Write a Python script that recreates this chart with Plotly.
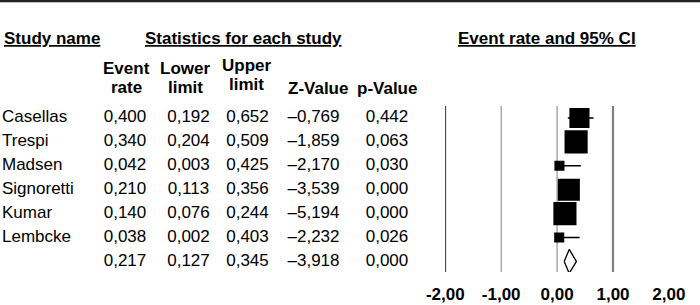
import plotly.graph_objects as go

# ---------------- data ----------------
study_names = ["Casellas", "Trespi", "Madsen", "Signoretti", "Kumar", "Lembcke"]
event_rate = [0.400, 0.340, 0.042, 0.210, 0.140, 0.038]
lower_limit = [0.192, 0.204, 0.003, 0.113, 0.076, 0.002]
upper_limit = [0.652, 0.509, 0.425, 0.356, 0.244, 0.403]
z_value = [-0.769, -1.859, -2.170, -3.539, -5.194, -2.232]
p_value = [0.442, 0.063, 0.030, 0.000, 0.000, 0.026]
rel_weight = [18.7, 24.7, 4.7, 22.6, 24.7, 4.7]  # relative weights (%)

summary_rate = 0.217
summary_lower = 0.127
summary_upper = 0.345
summary_z = -3.918
summary_p = 0.000

tick_values = [-2, -1, 0, 1, 2]
grid_values = [-2, -1, 0, 1]

# ---------------- helpers ----------------
W, H = 700, 305
FONT = "Liberation Sans, Arial, Helvetica, sans-serif"
FS = 17


def fmt(v):
    s = f"{v:.3f}".replace(".", ",")
    return s.replace("-", "\u2013")


def px_x(p):
    return p / W


def px_y(p):
    return 1 - p / H


n = len(study_names)
rows = list(range(n + 1))  # last row = summary

TOP_PX, BOT_PX = 106, 272
ROW0_PX, ROW_STEP = 118, 23.9
y_top = -(ROW0_PX - TOP_PX) / ROW_STEP
y_bot = n + (BOT_PX - (ROW0_PX + n * ROW_STEP)) / ROW_STEP

fig = go.Figure()

# ---------------- table text ----------------
col_names = study_names + [""]
cols = [
    ([fmt(v) for v in event_rate] + [fmt(summary_rate)], 125),
    ([fmt(v) for v in lower_limit] + [fmt(summary_lower)], 188.5),
    ([fmt(v) for v in upper_limit] + [fmt(summary_upper)], 247.5),
    ([fmt(v) for v in z_value] + [fmt(summary_z)], 313.5),
    ([fmt(v) for v in p_value] + [fmt(summary_p)], 387),
]

fig.add_trace(go.Scatter(
    x=[2] * (n + 1), y=rows, text=col_names, mode="text",
    textposition="middle right", textfont=dict(family=FONT, size=FS, color="black"),
    xaxis="x", yaxis="y", hoverinfo="skip", showlegend=False, cliponaxis=False))

for texts, xc in cols:
    fig.add_trace(go.Scatter(
        x=[xc] * (n + 1), y=rows, text=texts, mode="text",
        textposition="middle center", textfont=dict(family=FONT, size=FS, color="black"),
        xaxis="x", yaxis="y", hoverinfo="skip", showlegend=False, cliponaxis=False))

# ---------------- forest plot ----------------
ci_x, ci_y = [], []
for i in range(n):
    ci_x += [lower_limit[i], upper_limit[i], None]
    ci_y += [i, i, None]
fig.add_trace(go.Scatter(
    x=ci_x, y=ci_y, mode="lines", line=dict(color="black", width=1.6),
    xaxis="x2", yaxis="y", hoverinfo="skip", showlegend=False))

sizes = [4.65 * (w ** 0.5) for w in rel_weight]
fig.add_trace(go.Scatter(
    x=event_rate, y=list(range(n)), mode="markers",
    marker=dict(symbol="square", size=sizes, color="black", opacity=1, line=dict(width=0)),
    xaxis="x2", yaxis="y", hoverinfo="skip", showlegend=False))

half_h = 0.5
fig.add_trace(go.Scatter(
    x=[summary_lower, summary_rate, summary_upper, summary_rate, summary_lower],
    y=[n, n - half_h, n, n + half_h, n],
    mode="lines", fill="toself", fillcolor="white",
    line=dict(color="black", width=1.3),
    xaxis="x2", yaxis="y", hoverinfo="skip", showlegend=False, cliponaxis=False))

shapes = []
for g in grid_values:
    if g == -2:
        col, wd = "black", 1.6
    elif g == 1:
        col, wd = "#808080", 2.2
    else:
        col, wd = "#8c8c8c", 1.1
    shapes.append(dict(type="line", xref="x2", yref="y domain", x0=g, x1=g, y0=0, y1=1,
                       line=dict(color=col, width=wd), layer="below"))
shapes.append(dict(type="line", xref="paper", yref="paper", x0=0, x1=1, y0=px_y(1), y1=px_y(1),
                   line=dict(color="#222222", width=2.5)))

annotations = []


def head(text, xc, yc, anchor="center"):
    annotations.append(dict(text=text, x=px_x(xc), y=px_y(yc), xref="paper", yref="paper",
                            xanchor=anchor, yanchor="middle", showarrow=False,
                            font=dict(family=FONT, size=FS, color="black", weight="bold")))


head("<u>Study name</u>", 2, 38, "left")
head("<u>Statistics for each study</u>", 243, 38)
head("<u>Event rate and 95% CI</u>", 546.5, 38)
head("Event", 126.5, 69)
head("rate", 126.5, 88)
head("Lower", 185, 69)
head("limit", 185, 88)
head("Upper", 246.5, 66)
head("limit", 246.5, 85)
head("Z-Value", 318, 89)
head("p-Value", 386.5, 89)

x2_left, x2_right = 445.3, 668.9

fig.update_layout(
    width=W, height=H, autosize=False,
    margin=dict(l=0, r=0, t=0, b=0, autoexpand=False),
    paper_bgcolor="white", plot_bgcolor="rgba(0,0,0,0)",
    showlegend=False,
    xaxis=dict(domain=[0, 1], range=[0, W], visible=False, fixedrange=True),
    xaxis2=dict(domain=[px_x(x2_left), px_x(x2_right)], range=[-2, 2], anchor="y",
                showgrid=False, zeroline=False, showline=False, ticks="",
                tickvals=tick_values,
                ticktext=[f"{v:.2f}".replace(".", ",") for v in tick_values],
                tickfont=dict(family=FONT, size=FS, color="black", weight="bold"),
                ticklabelstandoff=10, fixedrange=True),
    yaxis=dict(domain=[px_y(BOT_PX), px_y(TOP_PX)], range=[y_bot, y_top], visible=False,
               fixedrange=True),
    shapes=shapes,
    annotations=annotations,
)

fig.write_html("out.html", config={"displayModeBar": False},
               post_script="document.body.style.margin='0';")
